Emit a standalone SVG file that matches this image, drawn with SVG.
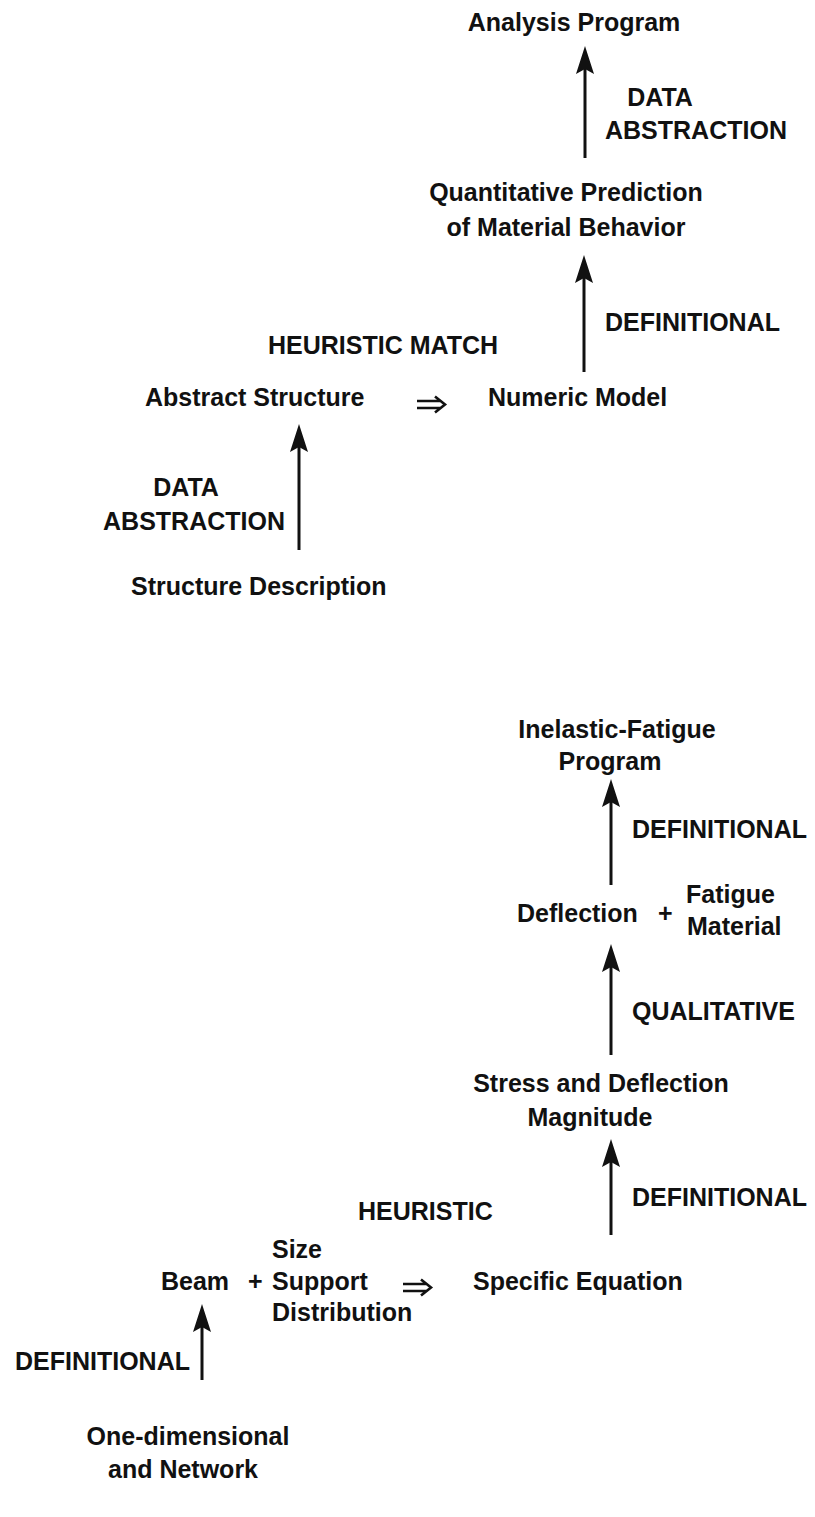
<svg xmlns="http://www.w3.org/2000/svg" width="815" height="1517" viewBox="0 0 815 1517">
<style>
text{font-family:"Liberation Sans",Arial,sans-serif;font-weight:bold;font-size:25px;fill:#111}
.c{text-anchor:middle}
.e{text-anchor:end}
.ln{stroke:#111;stroke-width:3;fill:none}
.ah{fill:#111;stroke:none}
.dbl{stroke:#111;stroke-width:2.6;fill:none}
</style>
<rect width="815" height="1517" fill="#fff"/>
<g id="connectors">
<line class="ln" x1="585" y1="158" x2="585" y2="64"/><path class="ah" d="M585,46 L594,74 L585,69 L576,74 Z"/>
<line class="ln" x1="584" y1="372" x2="584" y2="272"/><path class="ah" d="M584,255 L593,283 L584,278 L575,283 Z"/>
<line class="ln" x1="299" y1="550" x2="299" y2="440"/><path class="ah" d="M299,424 L308,452 L299,447 L290,452 Z"/>
<path class="dbl" d="M417,401 H441 M417,408 H441 M435,396.5 L445,404.5 L435,412.5"/>
<line class="ln" x1="611" y1="885" x2="611" y2="797"/><path class="ah" d="M611,779 L620,807 L611,802 L602,807 Z"/>
<line class="ln" x1="611" y1="1055" x2="611" y2="962"/><path class="ah" d="M611,944 L620,972 L611,967 L602,972 Z"/>
<line class="ln" x1="611" y1="1235" x2="611" y2="1157"/><path class="ah" d="M611,1139 L620,1167 L611,1162 L602,1167 Z"/>
<path class="dbl" d="M403,1284 H427 M403,1291 H427 M421,1279.5 L431,1287.5 L421,1295.5"/>
<line class="ln" x1="202" y1="1380" x2="202" y2="1322"/><path class="ah" d="M202,1304 L211,1332 L202,1327 L193,1332 Z"/>
</g>
<g id="n-analysis"><text class="c" x="574" y="31">Analysis Program</text></g>
<g id="l-data1"><text class="c" x="660" y="106">DATA</text><text x="605" y="139">ABSTRACTION</text></g>
<g id="n-quant"><text class="c" x="566" y="201">Quantitative Prediction</text><text class="c" x="566" y="236">of Material Behavior</text></g>
<g id="l-def1"><text x="605" y="331">DEFINITIONAL</text></g>
<g id="l-heur1"><text x="268" y="354">HEURISTIC MATCH</text></g>
<g id="n-abstract"><text x="145" y="406">Abstract Structure</text></g>
<g id="n-numeric"><text x="488" y="406">Numeric Model</text></g>
<g id="l-data2"><text class="c" x="186" y="496">DATA</text><text class="e" x="285" y="530">ABSTRACTION</text></g>
<g id="n-structdesc"><text x="131" y="595">Structure Description</text></g>
<g id="n-inelastic"><text class="c" x="617" y="738">Inelastic-Fatigue</text><text class="c" x="610" y="770">Program</text></g>
<g id="l-def2"><text x="632" y="838">DEFINITIONAL</text></g>
<g id="n-deflection"><text x="517" y="922">Deflection</text><text x="658" y="922">+</text><text x="686" y="903">Fatigue</text><text x="687" y="935">Material</text></g>
<g id="l-qual"><text x="632" y="1020">QUALITATIVE</text></g>
<g id="n-stress"><text class="c" x="601" y="1092">Stress and Deflection</text><text class="c" x="590" y="1126">Magnitude</text></g>
<g id="l-def3"><text x="632" y="1206">DEFINITIONAL</text></g>
<g id="l-heur2"><text x="358" y="1220">HEURISTIC</text></g>
<g id="n-beam"><text x="161" y="1290">Beam</text><text x="248" y="1290">+</text><text x="272" y="1258">Size</text><text x="272" y="1290">Support</text><text x="272" y="1321">Distribution</text></g>
<g id="n-specific"><text x="473" y="1290">Specific Equation</text></g>
<g id="l-def4"><text class="e" x="190" y="1370">DEFINITIONAL</text></g>
<g id="n-onedim"><text class="c" x="188" y="1445">One-dimensional</text><text class="c" x="183" y="1478">and Network</text></g>
</svg>
